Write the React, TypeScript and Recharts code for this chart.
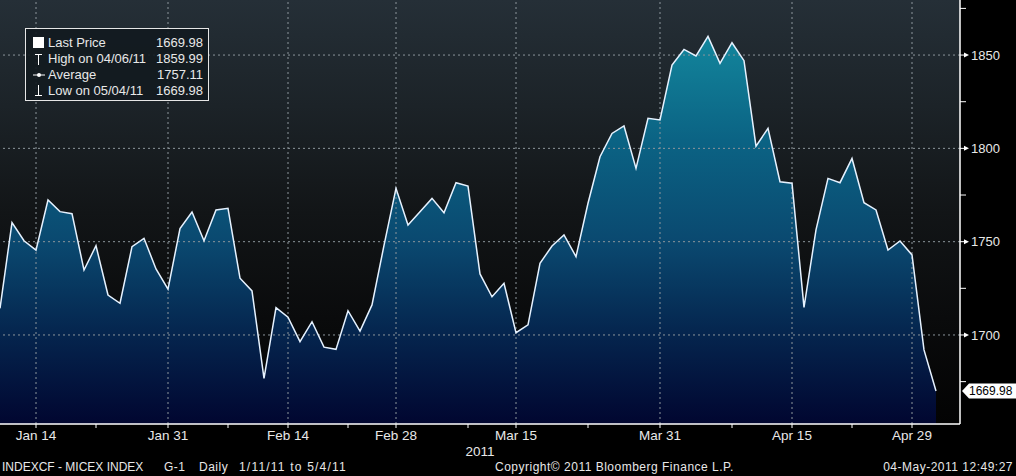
import React from 'react';
import {
  ComposedChart,
  Area,
  Line,
  XAxis,
  YAxis,
  CartesianGrid,
  ReferenceLine,
} from 'recharts';

const dates = [
  'Jan 11', 'Jan 12', 'Jan 13', 'Jan 14', 'Jan 17', 'Jan 18', 'Jan 19', 'Jan 20', 'Jan 21',
  'Jan 24', 'Jan 25', 'Jan 26', 'Jan 27', 'Jan 28', 'Jan 31', 'Feb 1', 'Feb 2', 'Feb 3', 'Feb 4',
  'Feb 7', 'Feb 8', 'Feb 9', 'Feb 10', 'Feb 11', 'Feb 14', 'Feb 15', 'Feb 16', 'Feb 17', 'Feb 18',
  'Feb 21', 'Feb 22', 'Feb 24', 'Feb 25', 'Feb 28', 'Mar 1', 'Mar 2', 'Mar 3', 'Mar 4', 'Mar 5',
  'Mar 9', 'Mar 10', 'Mar 11', 'Mar 14', 'Mar 15', 'Mar 16', 'Mar 17', 'Mar 18', 'Mar 21', 'Mar 22',
  'Mar 23', 'Mar 24', 'Mar 25', 'Mar 28', 'Mar 29', 'Mar 30', 'Mar 31', 'Apr 1', 'Apr 4', 'Apr 5',
  'Apr 6', 'Apr 7', 'Apr 8', 'Apr 11', 'Apr 12', 'Apr 13', 'Apr 14', 'Apr 15', 'Apr 18', 'Apr 19',
  'Apr 20', 'Apr 21', 'Apr 22', 'Apr 25', 'Apr 26', 'Apr 27', 'Apr 28', 'Apr 29', 'May 3', 'May 4',
];

const prices = [
  1714.3, 1760.2, 1750.5, 1745.5, 1772.3, 1766.1, 1765.0, 1734.8, 1747.8, 1721.4,
  1717.0, 1747.3, 1751.8, 1735.4, 1724.6, 1757.0, 1765.9, 1750.5, 1767.0, 1767.9,
  1730.4, 1723.6, 1676.8, 1714.7, 1709.5, 1696.4, 1707.1, 1693.5, 1692.3, 1713.0,
  1702.1, 1716.1, 1748.0, 1778.6, 1758.9, 1766.1, 1773.2, 1765.5, 1781.6, 1779.8,
  1732.7, 1720.5, 1727.7, 1701.2, 1705.4, 1738.4, 1747.7, 1753.6, 1742.0, 1770.6,
  1795.5, 1808.0, 1812.0, 1789.3, 1816.1, 1815.2, 1844.6, 1853.0, 1849.5, 1859.99,
  1845.6, 1856.6, 1847.0, 1801.2, 1810.7, 1782.1, 1781.3, 1714.8, 1756.3, 1783.9,
  1781.6, 1794.6, 1770.9, 1767.0, 1745.5, 1750.4, 1742.9, 1692.0, 1669.98,
];

const majorDates = ['Jan 14', 'Jan 31', 'Feb 14', 'Feb 28', 'Mar 15', 'Mar 31', 'Apr 15', 'Apr 29'];
const minorDates = ['Jan 21', 'Feb 7', 'Feb 21', 'Mar 9', 'Mar 23', 'Apr 8', 'Apr 22'];

const yTicks = [1675, 1700, 1725, 1750, 1775, 1800, 1825, 1850, 1875];
const yGrid = [1700, 1750, 1800, 1850];
const yDomain = [1652.3, 1879.5];

const legendRows = [
  { icon: 'square', label: 'Last Price', value: '1669.98' },
  { icon: 'high', label: 'High on 04/06/11', value: '1859.99' },
  { icon: 'avg', label: 'Average', value: '1757.11' },
  { icon: 'low', label: 'Low on 05/04/11', value: '1669.98' },
];

const footerParts = [
  { text: 'INDEXCF - MICEX INDEX', left: 2, spacing: 0 },
  { text: 'G-1', left: 164, spacing: 0.5 },
  { text: 'Daily', left: 199, spacing: 0.5 },
  { text: '1/11/11 to 5/4/11', left: 239, spacing: 1.2 },
  { text: 'Copyright\u00a9 2011 Bloomberg Finance L.P.', left: 495, spacing: 0.5 },
];
const footerRight = '04-May-2011 12:49:27';
const yearLabel = '2011';

const data = prices.map((v, i) => ({ i, date: dates[i], v }));
const majorIdx = majorDates.map((d) => dates.indexOf(d));
const minorIdx = minorDates.map((d) => dates.indexOf(d));
const xTicks = [...majorIdx, ...minorIdx].sort((a, b) => a - b);
const lastPrice = prices[prices.length - 1];

const FONT = '"Liberation Sans", Arial, sans-serif';
const TEXT = '#e8e8e8';
const GRID = '#8d969c';

const XTick = (props: any) => {
  const { x, y, payload } = props;
  const label = dates[payload.value];
  if (!majorDates.includes(label)) return null;
  return (
    <text x={x} y={y} dy="0.71em" textAnchor="middle" fill={TEXT} fontSize={13.5} fontFamily={FONT}>
      {label}
    </text>
  );
};

const YTick = (props: any) => {
  const { x, y, payload } = props;
  const major = payload.value % 50 === 0;
  if (!major) {
    return <line x1={x} x2={x + 6} y1={y} y2={y} stroke="#ffffff" strokeWidth={1} />;
  }
  return (
    <g>
      <line x1={x} x2={x + 5} y1={y} y2={y} stroke="#ffffff" strokeWidth={1} />
      <polygon points={`${x + 4},${y - 2.5} ${x + 9},${y} ${x + 4},${y + 2.5}`} fill="#ffffff" />
      <text x={x + 11} y={y} dy="0.36em" fill={TEXT} fontSize={13} fontFamily={FONT}>
        {payload.value}
      </text>
    </g>
  );
};

const LastBadge = (props: any) => {
  const vb = props.viewBox || {};
  const x0 = (vb.x || 0) + (vb.width || 0) + 2;
  const y = vb.y || 0;
  return (
    <g>
      <polygon
        points={`${x0},${y} ${x0 + 7},${y - 7.5} ${x0 + 60},${y - 7.5} ${x0 + 60},${y + 7.5} ${x0 + 7},${y + 7.5}`}
        fill="#ffffff"
      />
      <text x={x0 + 7} y={y} dy="0.36em" fill="#000000" fontSize={12} fontFamily={FONT}>
        {lastPrice.toFixed(2)}
      </text>
    </g>
  );
};

const LegendIcon = ({ kind }: { kind: string }) => {
  if (kind === 'square') {
    return (
      <svg width={12} height={12} style={{ display: 'block' }}>
        <rect x={0} y={0} width={11} height={11} fill="#ffffff" />
      </svg>
    );
  }
  if (kind === 'high') {
    return (
      <svg width={12} height={12} style={{ display: 'block' }}>
        <line x1={2} x2={9} y1={1.5} y2={1.5} stroke="#fff" strokeWidth={1} />
        <line x1={5.5} x2={5.5} y1={1.5} y2={12} stroke="#fff" strokeWidth={1} />
      </svg>
    );
  }
  if (kind === 'avg') {
    return (
      <svg width={12} height={12} style={{ display: 'block' }}>
        <line x1={0} x2={12} y1={6} y2={6} stroke="#fff" strokeWidth={1} />
        <circle cx={6} cy={6} r={2} fill="#fff" />
      </svg>
    );
  }
  return (
    <svg width={12} height={12} style={{ display: 'block' }}>
      <line x1={5.5} x2={5.5} y1={0} y2={10.5} stroke="#fff" strokeWidth={1} />
      <line x1={2} x2={9} y1={10.5} y2={10.5} stroke="#fff" strokeWidth={1} />
    </svg>
  );
};

export default function App() {
  return (
    <div
      style={{
        position: 'absolute',
        left: 0,
        top: 0,
        width: 1016,
        height: 476,
        background: '#000000',
        overflow: 'hidden',
        fontFamily: FONT,
      }}
    >
      <ComposedChart
        width={1016}
        height={476}
        data={data}
        margin={{ top: 0, right: 0, bottom: 22, left: 0 }}
      >
        <defs>
          <linearGradient id="bgGrad" x1="0" y1="0" x2="0" y2="424" gradientUnits="userSpaceOnUse">
            <stop offset="0%" stopColor="#252f37" />
            <stop offset="25%" stopColor="#1c2328" />
            <stop offset="50%" stopColor="#121517" />
            <stop offset="75%" stopColor="#0a0b0c" />
            <stop offset="100%" stopColor="#030303" />
          </linearGradient>
          <linearGradient id="areaGrad" x1="0" y1="0" x2="0" y2="424" gradientUnits="userSpaceOnUse">
            <stop offset="5%" stopColor="#148ba0" />
            <stop offset="33%" stopColor="#0b6384" />
            <stop offset="57%" stopColor="#0a4970" />
            <stop offset="78%" stopColor="#05264f" />
            <stop offset="100%" stopColor="#010630" />
          </linearGradient>
        </defs>
        <CartesianGrid horizontal={false} vertical={false} fill="url(#bgGrad)" fillOpacity={1} stroke="none" />
        <XAxis
          dataKey="i"
          type="number"
          domain={[0, 80]}
          allowDataOverflow
          ticks={xTicks}
          interval={0}
          height={30}
          tick={<XTick />}
          tickSize={4}
          tickMargin={2}
          tickLine={{ stroke: '#ffffff' }}
          axisLine={{ stroke: '#ffffff', strokeWidth: 1.5 }}
        />
        <YAxis
          orientation="right"
          type="number"
          domain={yDomain}
          allowDataOverflow
          ticks={yTicks}
          interval={0}
          width={56}
          tick={<YTick />}
          tickSize={0}
          tickMargin={0}
          tickLine={false}
          axisLine={{ stroke: '#ffffff', strokeWidth: 1.5 }}
        />
        <Area
          type="linear"
          dataKey="v"
          stroke="none"
          fill="url(#areaGrad)"
          fillOpacity={1}
          isAnimationActive={false}
          dot={false}
          activeDot={false}
        />
        {yGrid.map((g) => (
          <ReferenceLine key={'h' + g} y={g} stroke={GRID} strokeDasharray="2 3" strokeWidth={1} />
        ))}
        {majorIdx.map((g) => (
          <ReferenceLine key={'v' + g} x={g} stroke={GRID} strokeDasharray="2 3" strokeWidth={1} />
        ))}
        <Line
          type="linear"
          dataKey="v"
          stroke="#e6f2ff"
          strokeWidth={1.5}
          dot={false}
          activeDot={false}
          isAnimationActive={false}
        />
        <ReferenceLine y={lastPrice} stroke="none" label={<LastBadge />} />
      </ComposedChart>

      <div
        style={{
          position: 'absolute',
          left: 25,
          top: 28,
          width: 184,
          height: 73,
          border: '1px solid #e6e6e6',
          background: 'rgba(18,26,31,0.92)',
          boxSizing: 'border-box',
          padding: '6px 5px 0 7px',
          color: TEXT,
          fontSize: 13,
          lineHeight: '16px',
        }}
      >
        {legendRows.map((r) => (
          <div key={r.label} style={{ display: 'flex', alignItems: 'center', height: 16 }}>
            <div style={{ width: 15 }}>
              <LegendIcon kind={r.icon} />
            </div>
            <div style={{ flex: 1, whiteSpace: 'nowrap' }}>{r.label}</div>
            <div style={{ whiteSpace: 'nowrap' }}>{r.value}</div>
          </div>
        ))}
      </div>

      <div
        style={{
          position: 'absolute',
          left: 460,
          width: 40,
          top: 444,
          textAlign: 'center',
          color: TEXT,
          fontSize: 13.5,
        }}
      >
        {yearLabel}
      </div>
      {footerParts.map((p) => (
        <div
          key={p.text}
          style={{
            position: 'absolute',
            left: p.left,
            top: 460,
            color: TEXT,
            fontSize: 12,
            letterSpacing: p.spacing,
            whiteSpace: 'nowrap',
          }}
        >
          {p.text}
        </div>
      ))}
      <div
        style={{
          position: 'absolute',
          right: 3,
          top: 460,
          color: TEXT,
          fontSize: 12,
          letterSpacing: 0.5,
          whiteSpace: 'nowrap',
        }}
      >
        {footerRight}
      </div>
    </div>
  );
}
